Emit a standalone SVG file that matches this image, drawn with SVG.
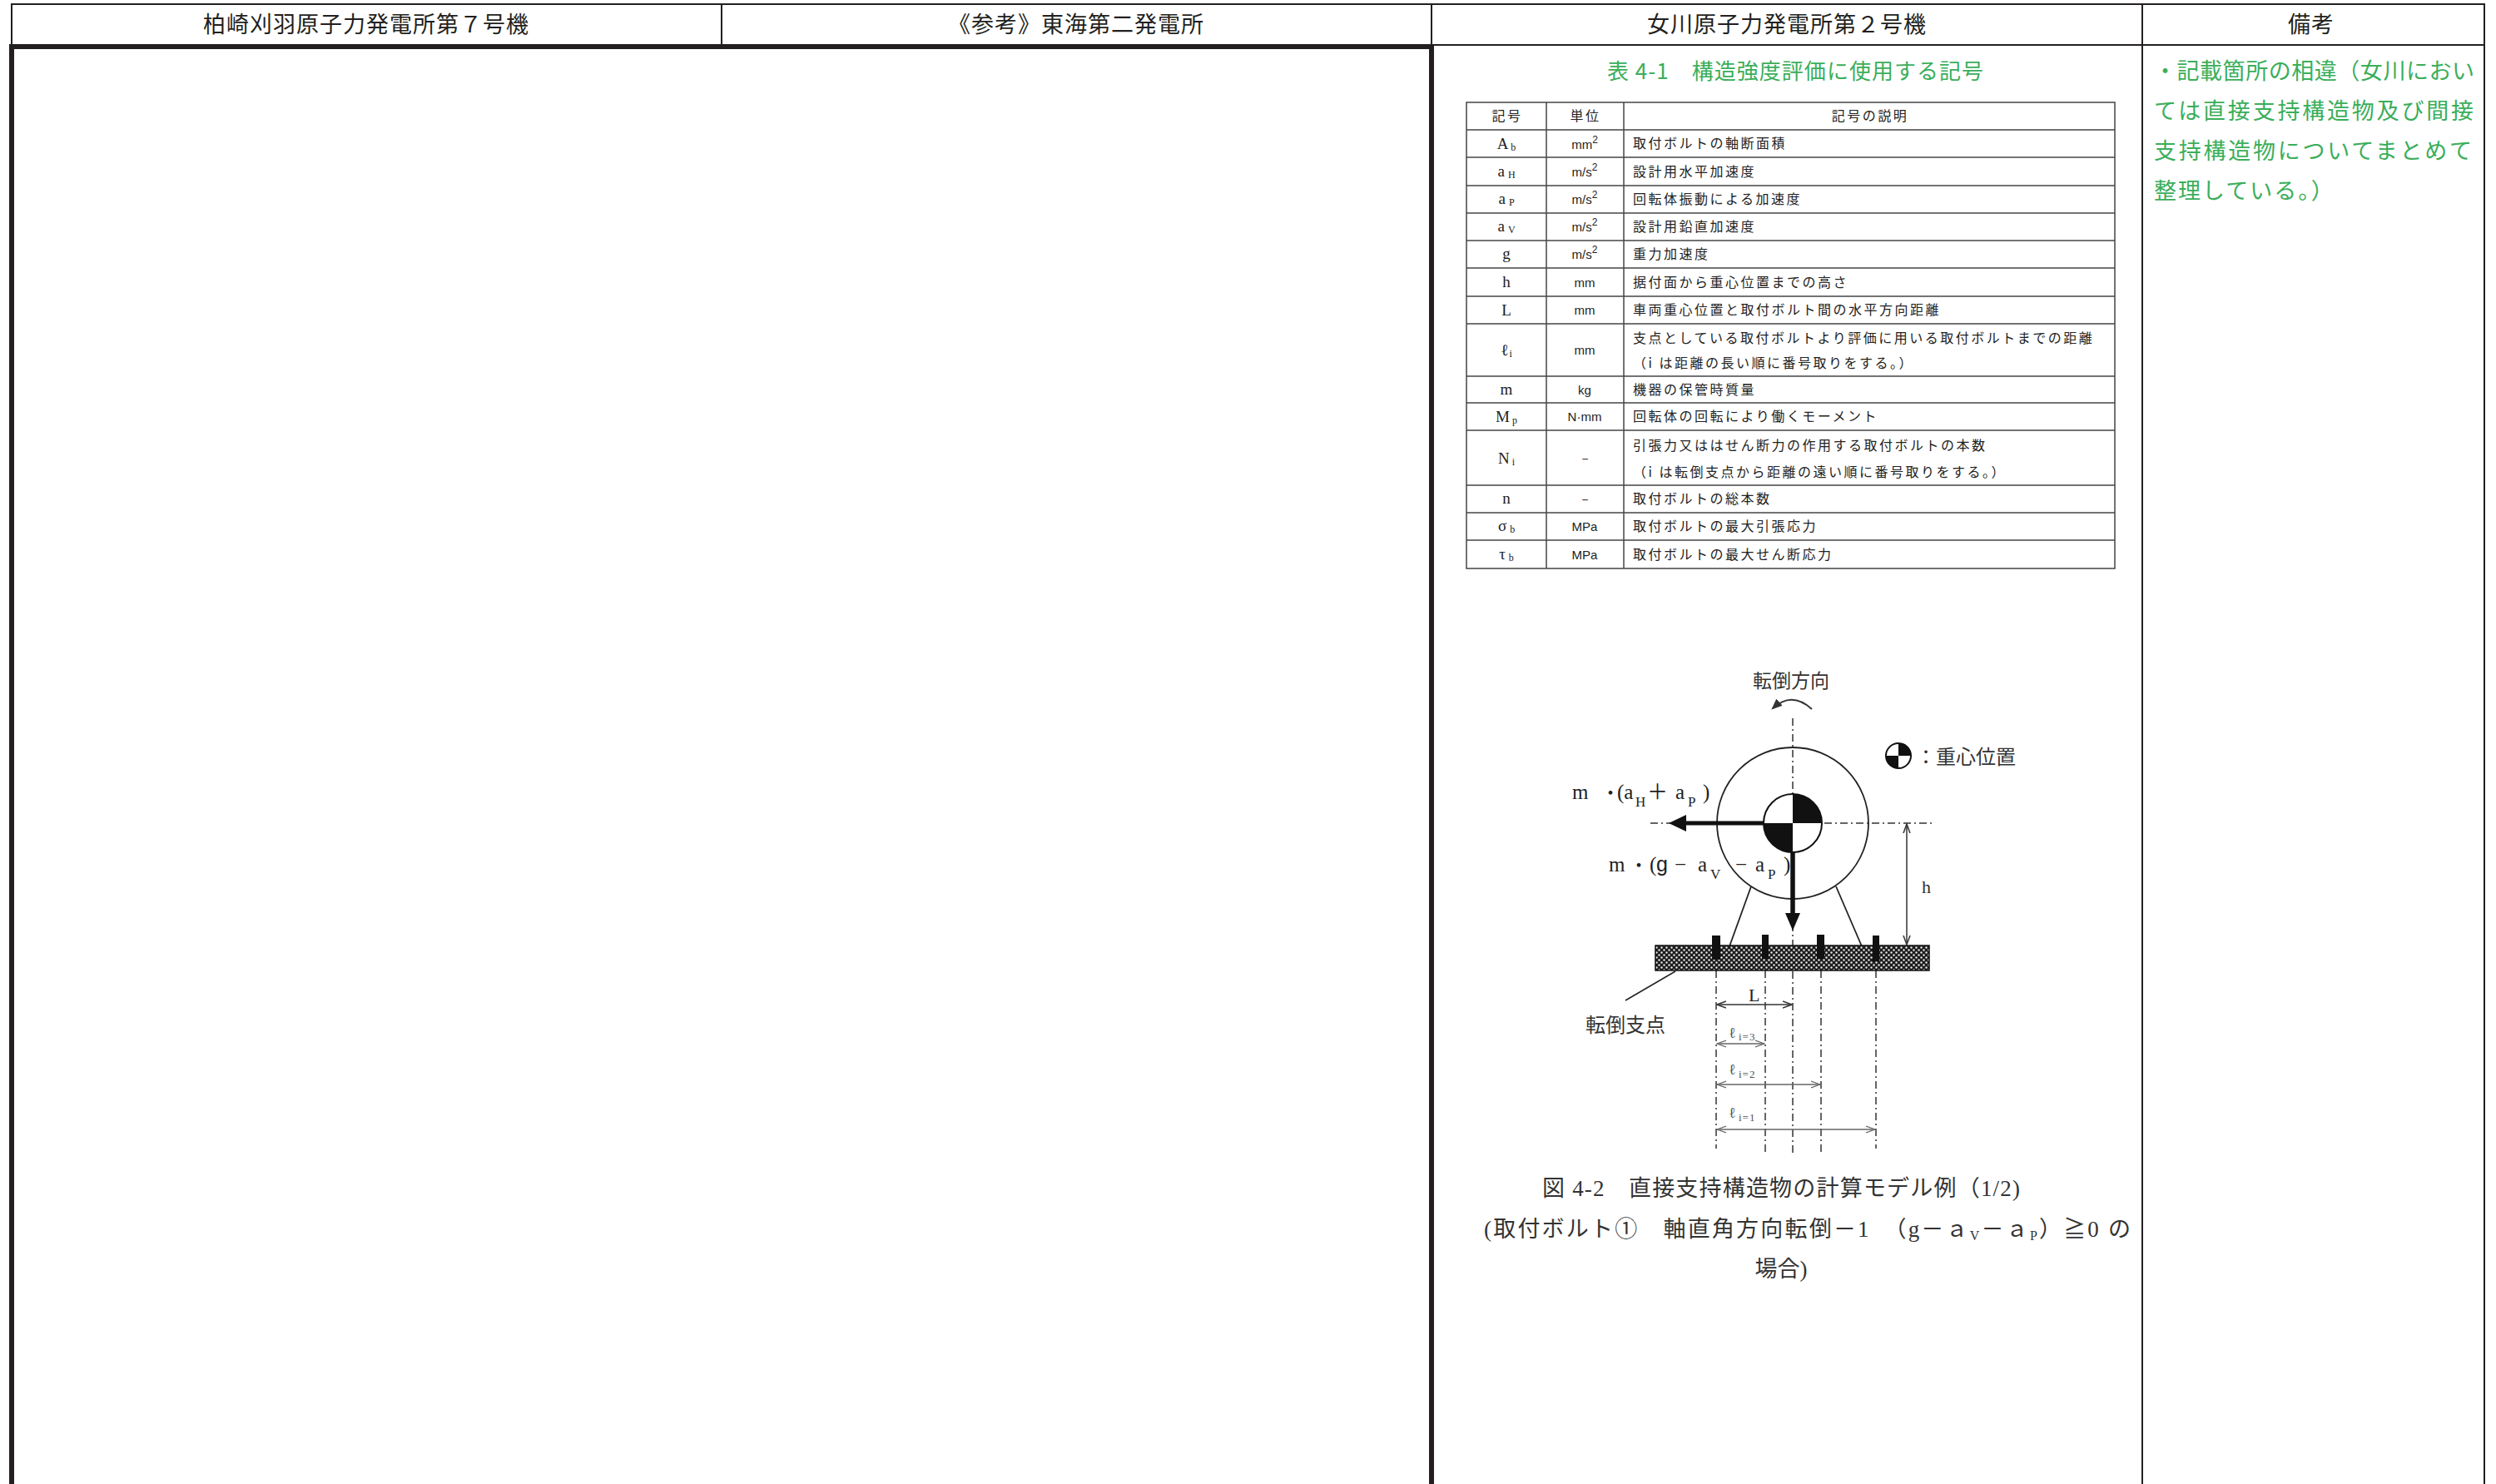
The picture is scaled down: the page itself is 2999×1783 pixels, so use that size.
<svg xmlns="http://www.w3.org/2000/svg" width="2999" height="1783" viewBox="0 0 2999 1783">
<style>
.frame{stroke:#231f20;stroke-width:2;fill:none}
.thick{stroke:#231f20;stroke-width:6;fill:none}
.hdr{font-family:"Noto Sans CJK JP","Noto Sans",sans-serif;font-size:27px;fill:#231f20;text-anchor:middle;letter-spacing:1px}
.green{font-family:"Noto Sans CJK JP","Noto Sans",sans-serif;font-size:27px;fill:#3aae5a}
.tl{stroke:#444;stroke-width:1.5;fill:none}
.tt{font-family:"Noto Sans CJK JP","Noto Sans",sans-serif;font-size:16px;fill:#222;letter-spacing:2.5px}
.th{font-family:"Noto Sans CJK JP","Noto Sans",sans-serif;font-size:16px;fill:#222;letter-spacing:2.5px;text-anchor:middle}
.ts{font-family:"Liberation Serif","Noto Sans CJK JP",serif;font-size:19px;fill:#222;text-anchor:middle}
.tu{font-family:"Liberation Sans Narrow","Liberation Sans",sans-serif;font-size:15px;fill:#222;text-anchor:middle}
.sub{font-size:12px}
.dd{stroke:#333;stroke-width:1.5;fill:none;stroke-dasharray:9 4 2 4}
.ln{stroke:#222;stroke-width:1.8;fill:none}
.dim{stroke:#333;stroke-width:1.5;fill:none;marker-start:url(#da);marker-end:url(#da)}
.dimg{stroke:#666;stroke-width:1.3;fill:none;marker-start:url(#dag);marker-end:url(#dag)}
.lab{font-family:"Noto Sans CJK JP","Noto Sans",sans-serif;font-size:24px;fill:#333}
.ser{font-family:"Liberation Serif","Noto Sans CJK JP",serif;font-size:25px;fill:#222}
.ssub{font-family:"Liberation Serif",serif;font-size:17px;fill:#222}
.lg{font-family:"Liberation Serif",serif;font-size:18px;fill:#555}
.lgs{font-family:"Liberation Serif",serif;font-size:13px;fill:#555;letter-spacing:1px}
.cap{font-family:"Liberation Serif","Noto Sans CJK JP",serif;font-size:27px;fill:#333}
</style>
<defs>
<marker id="da" viewBox="0 0 12 10" refX="11" refY="5" markerWidth="12" markerHeight="10" markerUnits="userSpaceOnUse" orient="auto-start-reverse">
<path d="M0,1 L11,5 L0,9" stroke="#333" stroke-width="1.5" fill="none"/>
</marker>
<marker id="dag" viewBox="0 0 12 10" refX="11" refY="5" markerWidth="12" markerHeight="10" markerUnits="userSpaceOnUse" orient="auto-start-reverse">
<path d="M0,1 L11,5 L0,9" stroke="#666" stroke-width="1.3" fill="none"/>
</marker>
<marker id="rot" viewBox="0 0 12 10" refX="10" refY="5" markerWidth="13" markerHeight="11" markerUnits="userSpaceOnUse" orient="auto">
<path d="M0,0 L12,5 L0,10 Z" fill="#333"/>
</marker>
<pattern id="hatch" patternUnits="userSpaceOnUse" width="6" height="6">
<rect width="6" height="6" fill="#1c1c1c"/>
<circle cx="1.5" cy="1.5" r="1.2" fill="#e8e8e8"/>
<circle cx="4.5" cy="4.5" r="1.2" fill="#e8e8e8"/>
</pattern>
</defs>
<rect width="2999" height="1783" fill="#fff"/>

<g id="page-frame">
<line class="frame" x1="13" y1="5" x2="2986" y2="5"/>
<line class="frame" x1="14" y1="5" x2="14" y2="56"/>
<line class="frame" x1="867" y1="5" x2="867" y2="54"/>
<line class="frame" x1="1720" y1="5" x2="1720" y2="56"/>
<line class="frame" x1="2574" y1="5" x2="2574" y2="1783"/>
<line class="frame" x1="2985" y1="5" x2="2985" y2="1783"/>
<line class="frame" x1="1720" y1="54" x2="2985" y2="54"/>
<rect class="thick" x="14" y="56" width="1706" height="1800"/>
</g>

<g id="headers">
<text class="hdr" x="440" y="39">柏崎刈羽原子力発電所第７号機</text>
<text class="hdr" x="1293" y="39">《参考》東海第二発電所</text>
<text class="hdr" x="2147" y="39">女川原子力発電所第２号機</text>
<text class="hdr" x="2777" y="39">備考</text>
</g>

<g id="remarks">
<text class="green" x="2588" y="95" textLength="385" lengthAdjust="spacing">・記載箇所の相違（女川におい</text>
<text class="green" x="2588" y="143" textLength="384" lengthAdjust="spacing">ては直接支持構造物及び間接</text>
<text class="green" x="2588" y="191" textLength="382" lengthAdjust="spacing">支持構造物についてまとめて</text>
<text class="green" x="2588" y="239" style="letter-spacing:2px">整理している。）</text>
</g>

<g id="table-title">
<text class="green" x="1931" y="95" style="font-size:26px" textLength="452" lengthAdjust="spacing">表 4-1　構造強度評価に使用する記号</text>
</g>

<g id="symbol-table">
<g id="table-grid">
<rect class="tl" x="1762" y="123" width="779" height="560"/>
<line class="tl" x1="1858" y1="123" x2="1858" y2="683"/>
<line class="tl" x1="1951" y1="123" x2="1951" y2="683"/>
<line class="tl" x1="1762" y1="156" x2="2541" y2="156"/>
<line class="tl" x1="1762" y1="189" x2="2541" y2="189"/>
<line class="tl" x1="1762" y1="223" x2="2541" y2="223"/>
<line class="tl" x1="1762" y1="256" x2="2541" y2="256"/>
<line class="tl" x1="1762" y1="289" x2="2541" y2="289"/>
<line class="tl" x1="1762" y1="322" x2="2541" y2="322"/>
<line class="tl" x1="1762" y1="356" x2="2541" y2="356"/>
<line class="tl" x1="1762" y1="389" x2="2541" y2="389"/>
<line class="tl" x1="1762" y1="452" x2="2541" y2="452"/>
<line class="tl" x1="1762" y1="484" x2="2541" y2="484"/>
<line class="tl" x1="1762" y1="517" x2="2541" y2="517"/>
<line class="tl" x1="1762" y1="583" x2="2541" y2="583"/>
<line class="tl" x1="1762" y1="616" x2="2541" y2="616"/>
<line class="tl" x1="1762" y1="649" x2="2541" y2="649"/>
</g>
<g id="table-head">
<text class="th" x="1811" y="145">記号</text>
<text class="th" x="1905" y="145">単位</text>
<text class="th" x="2247" y="145">記号の説明</text>
</g>
<g id="row-Ab">
<text class="ts" x="1810" y="179">A<tspan class="sub" dx="3" dy="2">b</tspan></text>
<text class="tu" x="1904" y="179">mm<tspan class="sub" dy="-7">2</tspan></text>
<text class="tt" x="1962" y="178">取付ボルトの軸断面積</text>
</g>
<g id="row-aH">
<text class="ts" x="1810" y="212">a<tspan class="sub" dx="4" dy="2">H</tspan></text>
<text class="tu" x="1904" y="212">m/s<tspan class="sub" dy="-7">2</tspan></text>
<text class="tt" x="1962" y="212">設計用水平加速度</text>
</g>
<g id="row-aP">
<text class="ts" x="1810" y="245">a<tspan class="sub" dx="4" dy="2">P</tspan></text>
<text class="tu" x="1904" y="245">m/s<tspan class="sub" dy="-7">2</tspan></text>
<text class="tt" x="1962" y="245">回転体振動による加速度</text>
</g>
<g id="row-aV">
<text class="ts" x="1810" y="278">a<tspan class="sub" dx="4" dy="2">V</tspan></text>
<text class="tu" x="1904" y="278">m/s<tspan class="sub" dy="-7">2</tspan></text>
<text class="tt" x="1962" y="278">設計用鉛直加速度</text>
</g>
<g id="row-g">
<text class="ts" x="1810" y="311">g</text>
<text class="tu" x="1904" y="311">m/s<tspan class="sub" dy="-7">2</tspan></text>
<text class="tt" x="1962" y="311">重力加速度</text>
</g>
<g id="row-h">
<text class="ts" x="1810" y="345">h</text>
<text class="tu" x="1904" y="345">mm</text>
<text class="tt" x="1962" y="345">据付面から重心位置までの高さ</text>
</g>
<g id="row-L">
<text class="ts" x="1810" y="379">L</text>
<text class="tu" x="1904" y="378">mm</text>
<text class="tt" x="1962" y="378">車両重心位置と取付ボルト間の水平方向距離</text>
</g>
<g id="row-li">
<text class="ts" x="1810" y="427">ℓ<tspan class="sub" dx="1" dy="2">i</tspan></text>
<text class="tu" x="1904" y="426">mm</text>
<text class="tt" x="1962" y="412">支点としている取付ボルトより評価に用いる取付ボルトまでの距離</text>
<text class="tt" x="1962" y="442">（i は距離の長い順に番号取りをする。）</text>
</g>
<g id="row-m">
<text class="ts" x="1810" y="474">m</text>
<text class="tu" x="1904" y="474">kg</text>
<text class="tt" x="1962" y="474">機器の保管時質量</text>
</g>
<g id="row-Mp">
<text class="ts" x="1810" y="507">M<tspan class="sub" dx="3" dy="2">p</tspan></text>
<text class="tu" x="1904" y="506">N·mm</text>
<text class="tt" x="1962" y="506">回転体の回転により働くモーメント</text>
</g>
<g id="row-Ni">
<text class="ts" x="1810" y="557">N<tspan class="sub" dx="3" dy="2">i</tspan></text>
<text class="tu" x="1904" y="556">－</text>
<text class="tt" x="1962" y="541">引張力又ははせん断力の作用する取付ボルトの本数</text>
<text class="tt" x="1962" y="573">（i は転倒支点から距離の遠い順に番号取りをする。）</text>
</g>
<g id="row-n">
<text class="ts" x="1810" y="605">n</text>
<text class="tu" x="1904" y="605">－</text>
<text class="tt" x="1962" y="605">取付ボルトの総本数</text>
</g>
<g id="row-sb">
<text class="ts" x="1810" y="638">σ<tspan class="sub" dx="4" dy="2">b</tspan></text>
<text class="tu" x="1904" y="638">MPa</text>
<text class="tt" x="1962" y="638">取付ボルトの最大引張応力</text>
</g>
<g id="row-tb">
<text class="ts" x="1810" y="672">τ<tspan class="sub" dx="4" dy="2">b</tspan></text>
<text class="tu" x="1904" y="672">MPa</text>
<text class="tt" x="1962" y="672">取付ボルトの最大せん断応力</text>
</g>
</g>

<g id="model-figure">
<g id="center-lines">
<line class="dd" x1="2154" y1="863" x2="2154" y2="1388"/>
<line class="dd" x1="1983" y1="989" x2="2325" y2="989"/>
<line class="dd" x1="2062" y1="1166" x2="2062" y2="1380"/>
<line class="dd" x1="2121" y1="1166" x2="2121" y2="1387"/>
<line class="dd" x1="2188" y1="1166" x2="2188" y2="1385"/>
<line class="dd" x1="2254" y1="1166" x2="2254" y2="1380"/>
</g>
<g id="machine">
<circle cx="2154" cy="989" r="91" class="ln"/>
<line class="ln" x1="2104" y1="1065" x2="2078" y2="1137"/>
<line class="ln" x1="2206" y1="1065" x2="2237" y2="1137"/>
</g>
<g id="base">
<rect x="1989" y="1136" width="329" height="30" fill="url(#hatch)" stroke="#111" stroke-width="1.5"/>
<rect x="2057" y="1124" width="10" height="29" fill="#111"/>
<rect x="2117" y="1123" width="8" height="29" fill="#111"/>
<rect x="2183" y="1123" width="9" height="29" fill="#111"/>
<rect x="2250" y="1124" width="8" height="31" fill="#111"/>
</g>
<g id="forces">
<line x1="2154" y1="989" x2="2022" y2="989" stroke="#111" stroke-width="5"/>
<polygon points="2005,989 2026,979 2026,999" fill="#111"/>
<line x1="2154" y1="989" x2="2154" y2="1100" stroke="#111" stroke-width="5"/>
<polygon points="2154,1118 2145,1097 2163,1097" fill="#111"/>
</g>
<g id="cg-symbol">
<circle cx="2154" cy="989" r="35" fill="#fff" stroke="#111" stroke-width="2"/>
<path d="M2154,989 L2154,954 A35,35 0 0 1 2189,989 Z" fill="#111"/>
<path d="M2154,989 L2119,989 A35,35 0 0 0 2154,1024 Z" fill="#111"/>
<line x1="2154" y1="1024" x2="2154" y2="1100" stroke="#111" stroke-width="5"/>
</g>
<g id="rotation">
<path d="M2177,852 Q2153,830 2130,851" stroke="#333" stroke-width="2" fill="none" marker-end="url(#rot)"/>
<text class="lab" x="2152" y="826" text-anchor="middle" style="font-size:23px">転倒方向</text>
</g>
<g id="legend">
<circle cx="2281" cy="908" r="15" fill="#fff" stroke="#111" stroke-width="2"/>
<path d="M2281,908 L2281,893 A15,15 0 0 1 2296,908 Z" fill="#111"/>
<path d="M2281,908 L2266,908 A15,15 0 0 0 2281,923 Z" fill="#111"/>
<text class="lab" x="2302" y="918">：重心位置</text>
</g>
<g id="force-labels">
<text class="ser" y="960"><tspan x="1889">m</tspan><tspan x="1924" font-family="Noto Sans CJK JP" font-size="22">・</tspan><tspan x="1943">(a</tspan><tspan x="1965" y="969" class="ssub">H</tspan><tspan x="1979" y="960" font-family="Noto Sans CJK JP" font-size="25">＋</tspan><tspan x="2013">a</tspan><tspan x="2028" y="969" class="ssub">P</tspan><tspan x="2046" y="960">)</tspan></text>
<text class="ser" y="1047"><tspan x="1933">m</tspan><tspan x="1958" font-family="Noto Sans CJK JP" font-size="22">・</tspan><tspan x="1982">(</tspan><tspan x="1990" font-family="Liberation Sans">g</tspan><tspan x="2012">−</tspan><tspan x="2040">a</tspan><tspan x="2055" y="1056" class="ssub">V</tspan><tspan x="2085" y="1047">−</tspan><tspan x="2109">a</tspan><tspan x="2124" y="1056" class="ssub">P</tspan><tspan x="2143" y="1047">)</tspan></text>
</g>
<g id="dimensions">
<line class="dim" x1="2291" y1="990" x2="2291" y2="1135"/>
<text class="ser" x="2309" y="1073" style="font-size:22px;fill:#333">h</text>
<line class="dim" x1="2063" y1="1207" x2="2153" y2="1207"/>
<text class="ser" x="2101" y="1203" style="font-size:22px">L</text>
<line class="dimg" x1="2063" y1="1254" x2="2120" y2="1254"/>
<text class="lg" x="2077" y="1247">ℓ</text><text class="lgs" x="2089" y="1250">i=3</text>
<line class="dimg" x1="2063" y1="1303" x2="2187" y2="1303"/>
<text class="lg" x="2077" y="1291">ℓ</text><text class="lgs" x="2089" y="1295">i=2</text>
<line class="dimg" x1="2063" y1="1357" x2="2253" y2="1357"/>
<text class="lg" x="2077" y="1343">ℓ</text><text class="lgs" x="2089" y="1347">i=1</text>
</g>
<g id="pivot-label">
<line class="ln" x1="2013" y1="1167" x2="1953" y2="1202" style="stroke-width:1.5"/>
<text class="lab" x="1905" y="1240">転倒支点</text>
</g>
</g>

<g id="caption">
<text class="cap" x="1853" y="1437" textLength="574" lengthAdjust="spacing">図 4-2　直接支持構造物の計算モデル例（1/2)</text>
<text class="cap" x="1783" y="1486" textLength="777" lengthAdjust="spacing">(取付ボルト①　軸直角方向転倒－1　（g－ａ<tspan font-size="16" dy="4">V</tspan><tspan dy="-4">－ａ</tspan><tspan font-size="16" dy="4">P</tspan><tspan dy="-4">）≧0 の</tspan></text>
<text class="cap" x="2140" y="1534" text-anchor="middle">場合)</text>
</g>
</svg>
